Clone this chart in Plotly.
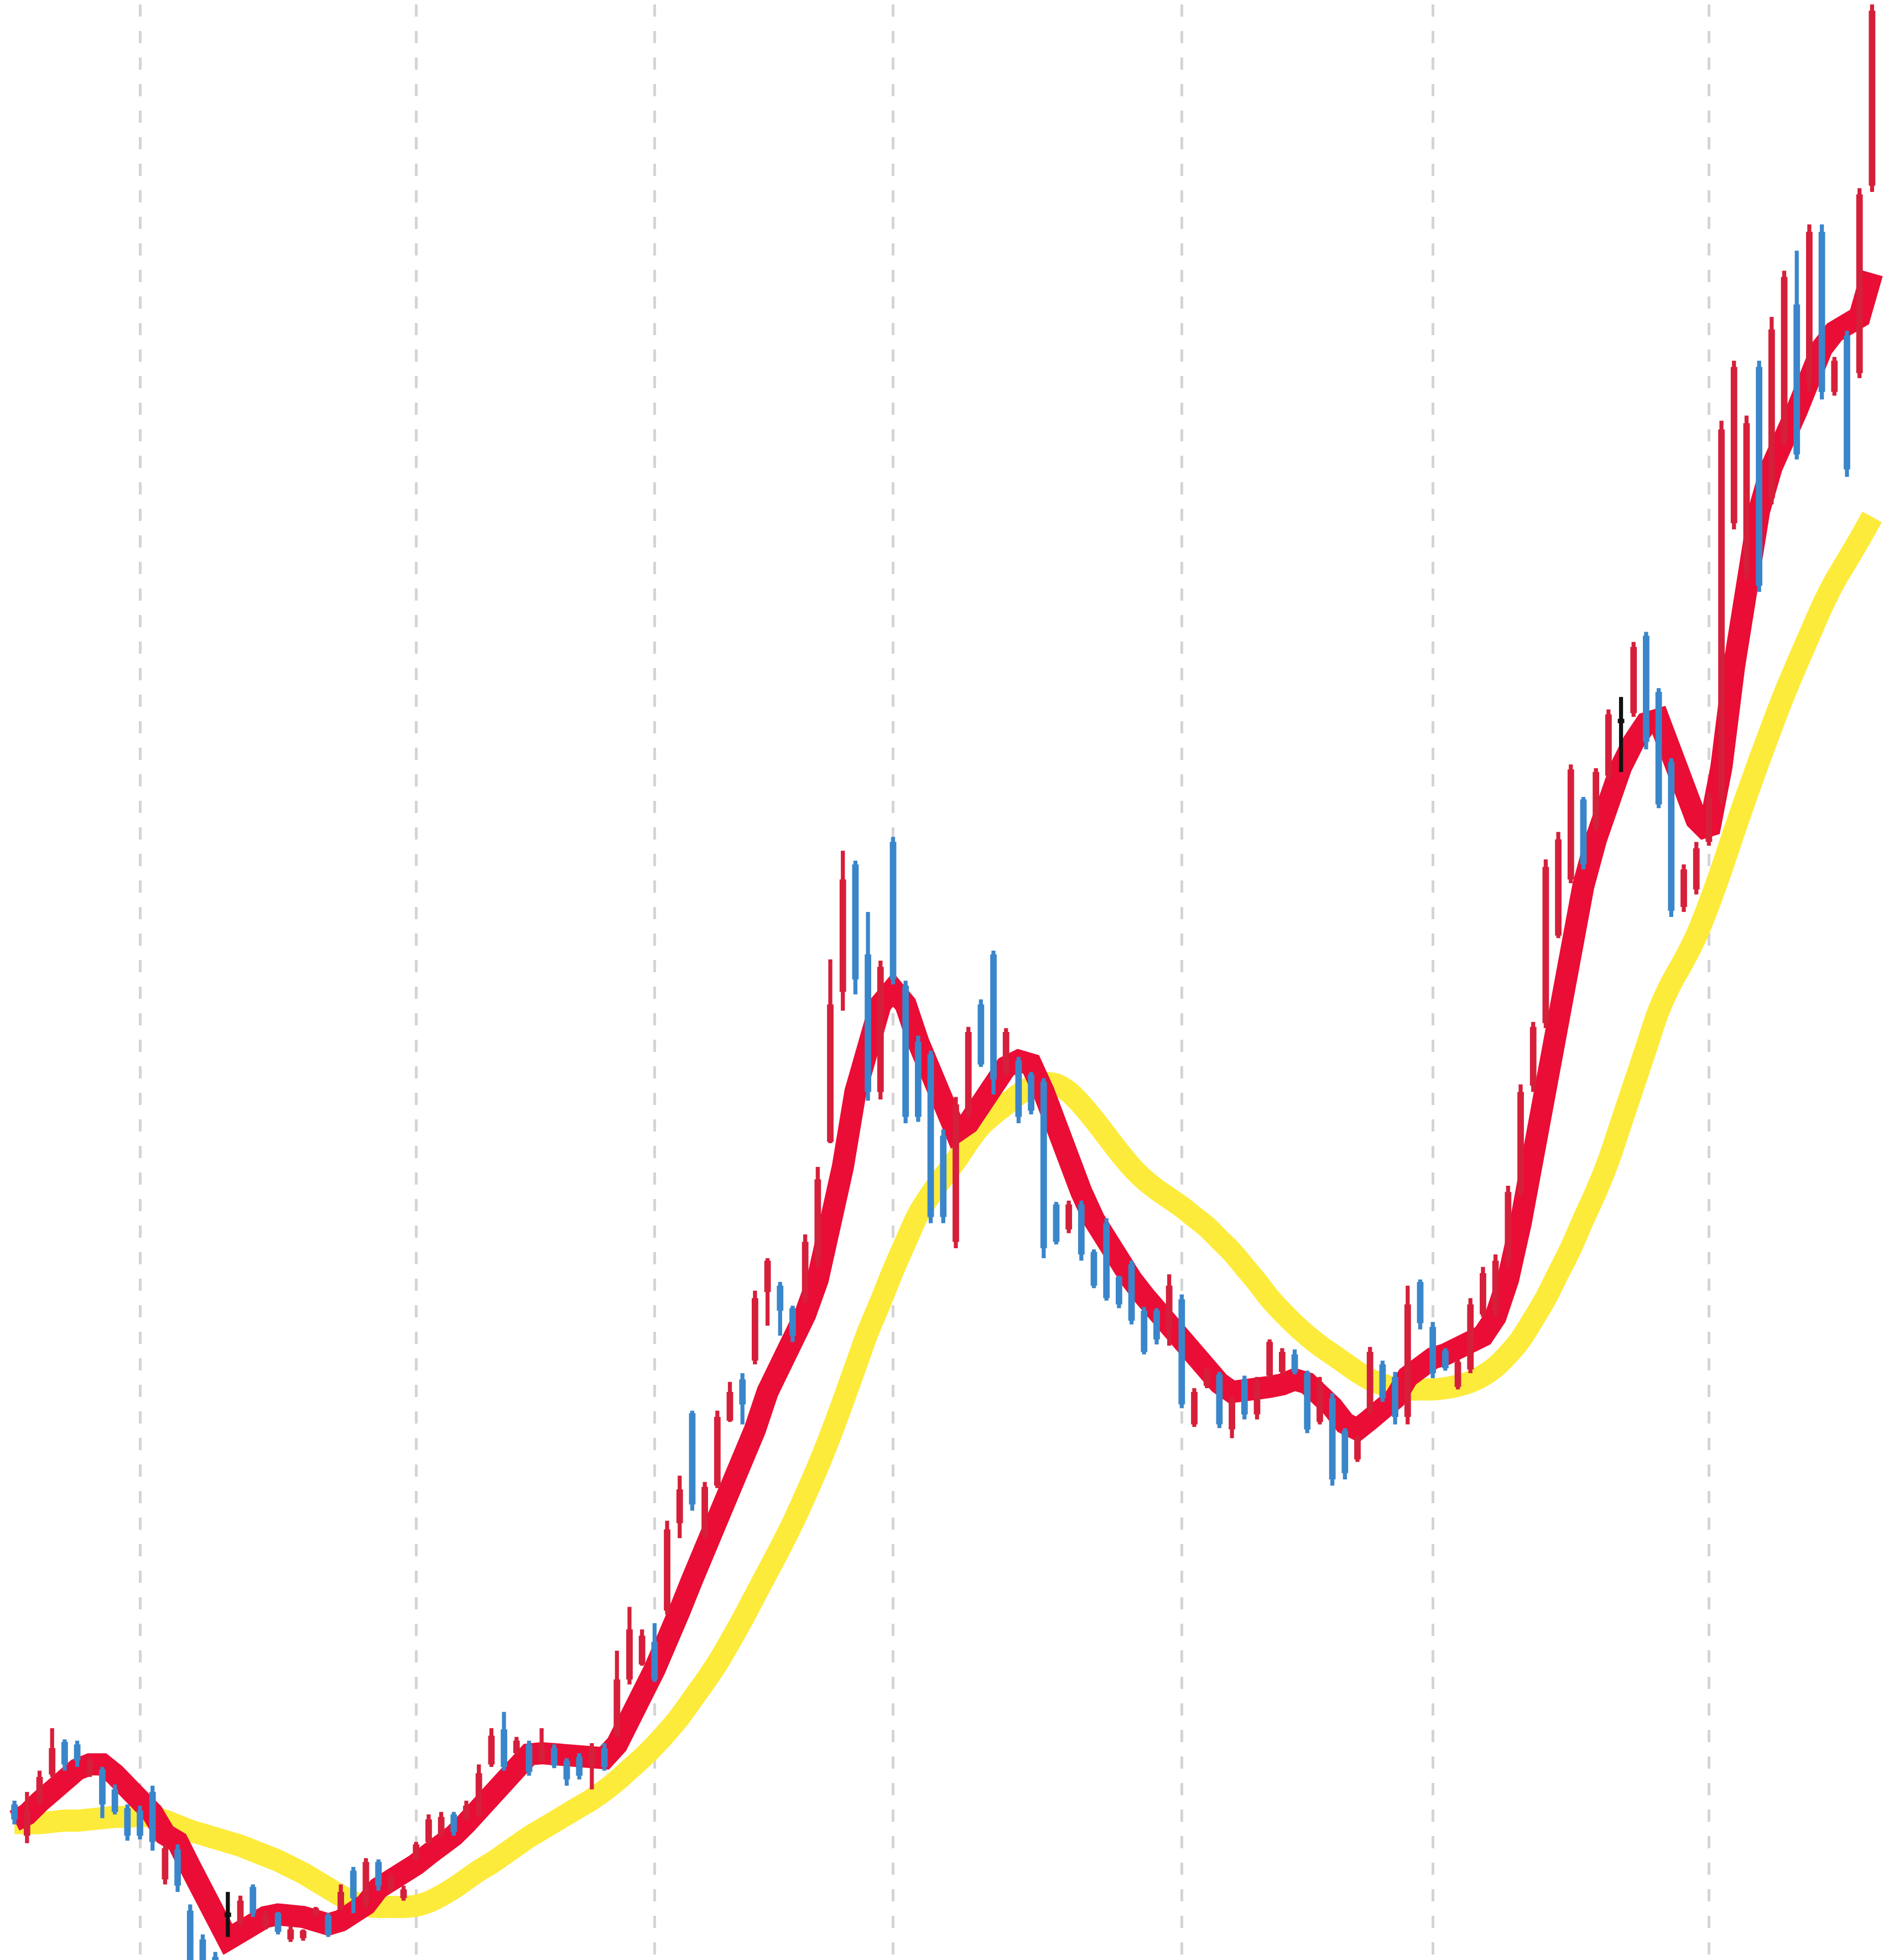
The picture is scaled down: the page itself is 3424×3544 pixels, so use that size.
import plotly.graph_objects as go

# Daily candles (arbitrary price units)
opens = [
    112.8, 110.3, 113.0, 115.2, 117.8, 117.6, 115.4, 115.6, 114.0, 112.5,
    112.3, 113.8, 106.8, 109.2, 104.3, 102.0, 100.6, 103.8, 103.3, 106.2,
    103.1, 104.1, 102.0, 102.1, 104.0, 103.9, 104.4, 107.5, 104.8, 108.2,
    106.0, 105.3, 108.4, 109.8, 110.3, 112.0, 111.6, 112.0, 116.0, 118.8,
    116.9, 117.6, 116.3, 117.3, 116.3, 116.6, 115.8, 117.3, 118.3, 122.8,
    124.0, 125.8, 128.3, 135.3, 144.1, 134.3, 138.3, 143.5, 146.8, 148.3,
    153.8, 154.3, 152.5, 153.3, 156.3, 165.8, 177.8, 188.0, 180.8, 169.8,
    189.8, 178.3, 173.8, 172.8, 166.3, 157.8, 168.0, 176.8, 180.8, 171.3,
    172.3, 171.2, 170.6, 160.8, 158.8, 160.8, 157.0, 159.3, 155.0, 156.0,
    152.3, 152.3, 150.8, 153.2, 143.2, 146.3, 147.2, 142.8, 146.8, 144.0,
    147.1, 147.4, 148.8, 147.3, 143.4, 145.3, 142.7, 140.4, 144.3, 148.0,
    147.0, 143.8, 154.6, 151.0, 149.1, 146.2, 147.6, 152.0, 152.3, 156.3,
    161.8, 170.3, 175.3, 182.3, 186.8, 193.2, 191.0, 195.1, 199.3, 200.1,
    206.3, 201.8, 196.2, 184.6, 186.0, 189.8, 193.3, 215.3, 211.3, 227.8,
    217.3, 221.8, 232.8, 226.8, 238.6, 225.8, 230.3, 227.3, 242.3,
]
highs = [
    113.1, 113.8, 115.5, 118.9, 118.0, 117.9, 116.6, 115.8, 114.4, 112.8,
    112.7, 114.3, 109.6, 109.6, 104.8, 102.4, 101.0, 105.8, 105.5, 106.4,
    104.3, 104.2, 103.1, 102.8, 104.6, 104.1, 106.4, 107.8, 108.5, 108.4,
    107.3, 106.3, 109.8, 112.0, 112.2, 112.2, 113.1, 116.0, 118.9, 120.2,
    118.2, 117.9, 118.9, 117.6, 116.5, 116.9, 117.7, 117.7, 125.1, 128.6,
    126.8, 127.3, 135.5, 139.1, 144.3, 138.6, 144.3, 146.6, 147.3, 153.9,
    156.5, 154.6, 152.7, 158.4, 163.8, 180.4, 189.1, 188.3, 184.2, 180.3,
    190.2, 178.7, 174.3, 173.1, 166.8, 169.4, 175.0, 177.2, 181.1, 174.9,
    172.6, 171.4, 170.9, 161.0, 161.1, 161.1, 157.2, 159.7, 155.1, 156.3,
    152.6, 152.5, 155.2, 153.6, 146.1, 147.7, 147.4, 145.4, 147.1, 147.0,
    150.0, 149.3, 149.2, 147.5, 147.0, 145.7, 142.9, 142.3, 149.4, 148.3,
    147.4, 154.3, 154.8, 151.4, 149.3, 148.4, 153.3, 155.8, 156.8, 162.3,
    170.4, 175.4, 188.4, 190.6, 196.0, 193.4, 195.7, 200.4, 201.4, 205.8,
    206.6, 202.1, 196.5, 188.0, 189.8, 193.7, 223.5, 228.3, 223.9, 228.3,
    231.8, 235.5, 237.1, 239.2, 239.2, 228.6, 230.7, 242.1, 258.8,
]
lows = [
    111.2, 109.7, 112.8, 115.0, 115.5, 115.8, 115.0, 111.7, 112.0, 109.9,
    110.0, 109.1, 106.4, 105.8, 98.8, 97.8, 97.3, 102.2, 103.1, 103.8,
    102.8, 102.4, 101.8, 101.9, 103.8, 102.2, 104.3, 104.1, 104.5, 105.9,
    105.8, 105.1, 108.3, 109.6, 110.2, 110.3, 111.5, 111.8, 115.8, 115.5,
    116.8, 115.1, 116.2, 115.7, 114.3, 114.8, 114.0, 115.5, 118.2, 122.4,
    123.9, 122.6, 128.0, 134.1, 136.3, 134.1, 138.1, 143.4, 143.2, 148.0,
    151.1, 150.3, 149.8, 152.9, 155.8, 165.7, 176.3, 177.6, 169.1, 169.2,
    178.4, 167.3, 167.4, 159.3, 159.3, 157.3, 167.8, 171.8, 169.6, 171.1,
    167.3, 168.0, 156.5, 157.6, 158.5, 156.3, 154.1, 153.1, 152.5, 151.2,
    148.8, 149.6, 149.5, 144.5, 143.0, 146.1, 142.9, 142.1, 143.6, 143.6,
    146.9, 147.2, 147.2, 142.5, 143.2, 138.3, 138.8, 140.2, 144.0, 145.0,
    143.2, 143.2, 150.8, 146.9, 147.5, 146.0, 147.3, 151.8, 151.8, 155.8,
    161.5, 169.8, 174.9, 182.1, 186.5, 187.6, 190.7, 194.8, 195.4, 199.8,
    197.2, 192.5, 183.8, 184.2, 185.6, 189.5, 192.8, 214.8, 210.8, 209.8,
    216.8, 221.5, 220.4, 225.8, 225.2, 225.5, 219.0, 226.9, 241.8,
]
closes = [
    111.6, 112.3, 115.0, 117.3, 116.0, 116.3, 116.3, 112.8, 112.2, 110.3,
    110.3, 109.8, 109.3, 106.3, 99.3, 98.3, 97.8, 103.8, 105.1, 104.1,
    104.0, 102.6, 102.8, 102.7, 104.5, 102.4, 105.8, 105.3, 108.2, 106.3,
    107.0, 106.0, 109.6, 111.6, 111.8, 110.6, 112.7, 115.3, 118.3, 115.8,
    117.9, 115.4, 117.6, 115.9, 114.8, 115.1, 117.3, 115.8, 122.8, 126.8,
    126.3, 122.8, 134.8, 138.0, 136.8, 138.2, 143.8, 145.8, 144.8, 153.3,
    156.3, 152.3, 150.3, 157.8, 162.8, 176.8, 186.8, 178.8, 169.8, 179.8,
    178.8, 167.8, 167.8, 159.8, 159.8, 168.8, 174.6, 172.0, 170.8, 174.6,
    167.8, 168.3, 157.3, 157.8, 160.8, 156.8, 154.3, 153.3, 152.8, 151.5,
    149.0, 150.0, 154.3, 144.8, 145.8, 147.5, 143.2, 145.0, 144.0, 146.6,
    149.8, 149.0, 147.4, 142.8, 146.6, 138.8, 139.3, 142.1, 149.0, 145.3,
    143.8, 152.8, 151.3, 147.3, 147.7, 148.2, 152.8, 155.3, 156.3, 161.8,
    169.8, 175.0, 187.8, 190.0, 195.6, 188.0, 195.4, 200.0, 199.3, 205.4,
    197.8, 192.8, 184.3, 187.6, 189.3, 193.3, 222.8, 227.8, 223.3, 210.3,
    230.8, 235.0, 220.8, 238.6, 225.8, 228.3, 219.6, 241.6, 256.3,
]

# Short moving average (thick red) and long moving average (thick yellow)
ma_fast = [
    111.5, 112.0, 113.0, 114.0, 114.9, 115.6, 116.0, 116.0, 115.2, 114.2,
    113.2, 112.1, 110.4, 109.8, 107.8, 105.6, 103.3, 102.0, 102.6, 103.3,
    103.8, 104.0, 104.0, 103.8, 103.5, 103.2, 103.5, 104.0, 104.8, 106.1,
    106.6, 107.3, 108.0, 108.8, 109.4, 110.3, 111.3, 112.5, 113.8, 115.0,
    116.0, 116.8, 116.9, 116.8, 116.7, 116.4, 116.2, 116.5, 117.6, 119.3,
    121.6, 123.6, 125.6, 128.3, 130.8, 133.0, 135.3, 137.8, 140.0, 142.8,
    145.8, 147.8, 149.8, 152.0, 154.8, 158.8, 163.8, 169.8, 174.0, 176.8,
    178.0, 176.8, 173.8, 171.3, 168.8, 166.6, 167.3, 169.0, 170.6, 171.8,
    172.3, 172.0, 169.8, 166.8, 164.3, 161.8, 159.6, 157.8, 156.3, 154.8,
    153.5, 152.3, 151.3, 150.0, 148.8, 147.5, 146.5, 145.8, 145.8, 146.0,
    146.2, 146.4, 146.8, 146.5, 145.8, 144.6, 143.3, 142.8, 143.6, 144.3,
    145.3, 147.0, 148.0, 148.5, 148.8, 149.2, 149.8, 150.3, 151.8, 154.8,
    159.3, 164.8, 170.8, 176.8, 181.8, 186.3, 190.0, 193.3, 195.8, 197.8,
    199.3, 199.6, 197.0, 194.3, 191.6, 190.6, 195.8, 203.8, 210.6, 216.3,
    219.8, 221.8, 224.3, 226.8, 229.3, 230.6, 231.0, 231.8, 235.3,
]
ma_slow = [
    111.3, 111.3, 111.3, 111.4, 111.5, 111.5, 111.6, 111.7, 111.8, 111.8,
    111.9, 111.8, 111.5, 111.1, 110.7, 110.4, 110.1, 109.8, 109.5, 109.1,
    108.7, 108.3, 107.8, 107.3, 106.7, 106.1, 105.5, 105.0, 104.7, 104.6,
    104.6, 104.6, 104.7, 105.0, 105.5, 106.1, 106.8, 107.5, 108.1, 108.8,
    109.5, 110.2, 110.8, 111.4, 112.0, 112.6, 113.2, 113.9, 114.7, 115.6,
    116.5, 117.5, 118.6, 119.8, 121.2, 122.6, 124.1, 125.8, 127.6, 129.5,
    131.4, 133.3, 135.3, 137.5, 139.8, 142.3, 145.0, 147.8, 150.6, 153.0,
    155.5, 157.8, 160.0, 161.6, 163.0, 164.3, 165.8, 167.1, 168.0, 168.8,
    169.6, 170.2, 170.5, 170.4, 169.8, 168.8, 167.6, 166.3, 165.0, 163.8,
    162.8, 162.0, 161.3, 160.6, 159.8, 159.0, 158.0, 157.0, 155.8, 154.6,
    153.3, 152.2, 151.2, 150.3, 149.5, 148.8, 148.1, 147.4, 146.8, 146.4,
    146.1, 146.0, 146.0, 146.0, 146.1, 146.3, 146.6, 147.1, 147.8, 148.8,
    150.0, 151.6, 153.3, 155.3, 157.3, 159.6, 161.8, 164.3, 167.3, 170.3,
    173.3, 176.3, 178.5, 180.3, 182.3, 184.8, 187.6, 190.6, 193.5, 196.3,
    199.0, 201.6, 204.0, 206.3, 208.6, 210.6, 212.3, 214.0, 215.8,
]

# Candle index at which each month starts (dashed vertical gridlines)
month_starts = [10, 32, 51, 70, 93, 113, 135]

UP = "#d61f3a"
DOWN = "#3a86ca"
FLAT = "#111111"

idx = list(range(len(opens)))
colors = []
for o, c in zip(opens, closes):
    if c > o:
        colors.append(UP)
    elif c < o:
        colors.append(DOWN)
    else:
        colors.append(FLAT)

body_base = [min(o, c) for o, c in zip(opens, closes)]
body_len = [max(abs(c - o), 0.35) for o, c in zip(opens, closes)]
wick_len = [h - l for h, l in zip(highs, lows)]

fig = go.Figure()

fig.add_trace(go.Scatter(
    x=idx, y=ma_slow, mode="lines",
    line=dict(color="#fdeb3c", width=40, shape="spline"),
    zorder=0, hoverinfo="skip",
))
fig.add_trace(go.Scatter(
    x=idx, y=ma_fast, mode="lines",
    line=dict(color="#ea0d35", width=40),
    zorder=1, hoverinfo="skip",
))
fig.add_trace(go.Bar(
    x=idx, base=lows, y=wick_len, width=0.32,
    marker=dict(color=colors, line=dict(width=0)),
    zorder=2, hoverinfo="skip",
))
fig.add_trace(go.Bar(
    x=idx, base=body_base, y=body_len, width=0.52,
    marker=dict(color=colors, line=dict(width=0)),
    zorder=3, hoverinfo="skip",
))

fig.update_layout(
    width=3424, height=3544,
    margin=dict(l=0, r=0, t=0, b=0),
    paper_bgcolor="white", plot_bgcolor="white",
    showlegend=False, barmode="overlay",
    xaxis=dict(
        range=[-0.8, 150.1], tickvals=month_starts,
        showticklabels=False, ticks="", zeroline=False, showline=False,
        showgrid=True, gridcolor="#d4d4d4", gridwidth=5, griddash="22px,26px",
    ),
    yaxis=dict(
        range=[100, 256.8], showticklabels=False, ticks="",
        showgrid=False, zeroline=False, showline=False,
    ),
)

fig.write_html("out.html")
